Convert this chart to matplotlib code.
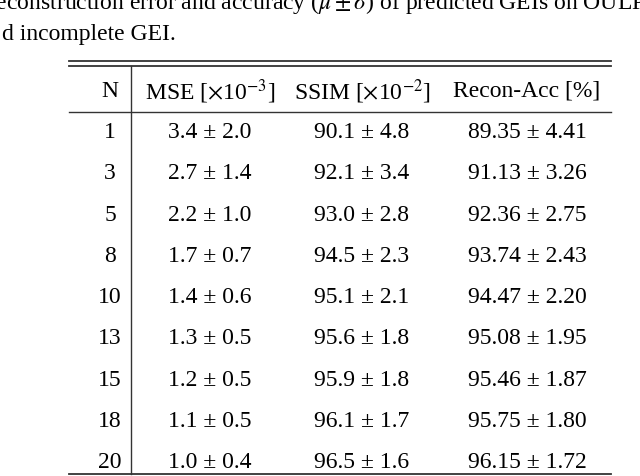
import matplotlib
matplotlib.use("Agg")
import matplotlib.pyplot as plt

N = ["1", "3", "5", "8", "10", "13", "15", "18", "20"]
mse = ["3.4 ± 2.0", "2.7 ± 1.4", "2.2 ± 1.0", "1.7 ± 0.7", "1.4 ± 0.6", "1.3 ± 0.5", "1.2 ± 0.5", "1.1 ± 0.5", "1.0 ± 0.4"]
ssim = ["90.1 ± 4.8", "92.1 ± 3.4", "93.0 ± 2.8", "94.5 ± 2.3", "95.1 ± 2.1", "95.6 ± 1.8", "95.9 ± 1.8", "96.1 ± 1.7", "96.5 ± 1.6"]
acc = ["89.35 ± 4.41", "91.13 ± 3.26", "92.36 ± 2.75", "93.74 ± 2.43", "94.47 ± 2.20", "95.08 ± 1.95", "95.46 ± 1.87", "95.75 ± 1.80", "96.15 ± 1.72"]
headers = ["N", r"MSE [$\times$10$^{-3}$]", r"SSIM [$\times$10$^{-2}$]", "Recon-Acc [%]"]

plt.rcParams['font.family'] = ['Liberation Serif', 'DejaVu Serif']
plt.rcParams['mathtext.fontset'] = 'stix'
fig = plt.figure(figsize=(6.4, 4.76), dpi=100)
ax = fig.add_axes([0, 0, 1, 1])
ax.set_xlim(0, 640); ax.set_ylim(476, 0); ax.axis('off')

fs = 17
ax.text(-12, 0, r"reconstruction error and accuracy ($\mu \pm \sigma$) of predicted GEIs on OULP test set. $N$ shows the",
        fontsize=fs, va='center_baseline', ha='left')
ax.text(2, 32, "d incomplete GEI.", fontsize=fs, va='center_baseline', ha='left')

x0, x1 = 69, 611
for y, lw in [(61, 1.3), (66, 1.3), (112, 1.0), (474, 1.3)]:
    ax.plot([x0, x1], [y, y], color='#333', lw=lw)
ax.plot([131, 131], [66, 474], color='#333', lw=1.0)

cx = [110, 210, 362, 527]
for c, h in zip(cx, headers):
    ax.text(c, 89, h, fontsize=fs, ha='center', va='center_baseline')
for i in range(len(N)):
    y = 130 + i * 41.3
    for c, v in zip(cx, [N[i], mse[i], ssim[i], acc[i]]):
        ax.text(c, y, v, fontsize=fs, ha='center', va='center_baseline')

fig.savefig("out.png", dpi=100)
